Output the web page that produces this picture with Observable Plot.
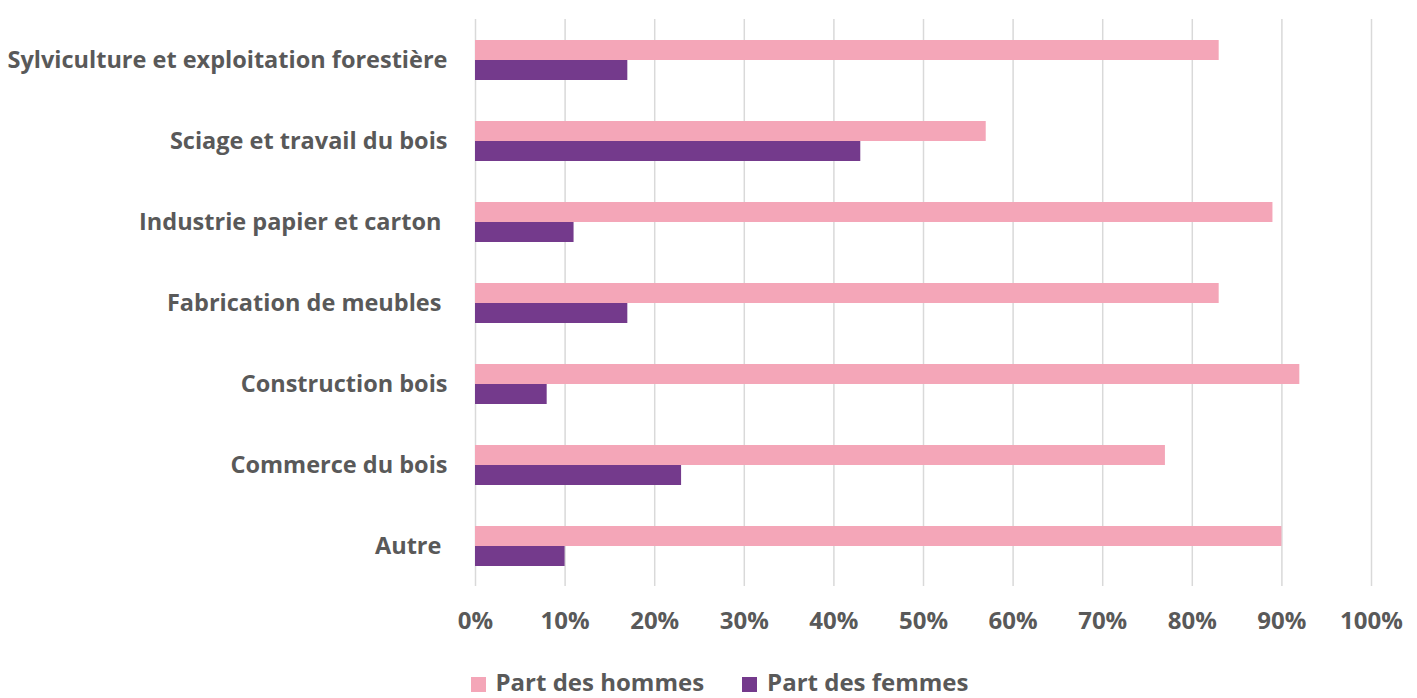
<!DOCTYPE html>
<html><head><meta charset="utf-8">
<script src="https://cdn.jsdelivr.net/npm/d3@7"></script>
<script src="https://cdn.jsdelivr.net/npm/@observablehq/plot@0.6"></script>
<style>
body{margin:0;background:#fff;font-family:"Open Sans",Roboto,sans-serif;}
#legend{display:flex;justify-content:center;gap:38px;font-weight:bold;font-size:24px;color:#595959;margin-top:8px;line-height:28px;padding-left:22px}
#legend span.sw{display:inline-block;width:15px;height:15px;margin-right:10px;vertical-align:-1px}
</style></head>
<body>
<div id="chart"></div>
<div id="legend"></div>
<script>
const categories = ["Sylviculture et exploitation forestière","Sciage et travail du bois","Industrie papier et carton\u00a0","Fabrication de meubles\u00a0","Construction bois","Commerce du bois","Autre\u00a0"];
const series = ["Part des hommes","Part des femmes"];
const hommes = [83,57,89,83,92,77,90];
const femmes = [17,43,11,17,8,23,10];
const xTicks = [0,10,20,30,40,50,60,70,80,90,100];
const colors = ["#F4A6B8","#743A8C"];

const data = [];
categories.forEach((c,i)=>{
  data.push({cat:c, series:series[0], value:hommes[i]});
  data.push({cat:c, series:series[1], value:femmes[i]});
});

const chart = Plot.plot({
  width:1417, height:660,
  marginLeft:475, marginRight:46, marginTop:18, marginBottom:73,
  style:{fontFamily:"'Open Sans', Roboto, sans-serif", fontWeight:"bold", color:"#595959", fontSize:"23.5px"},
  x:{domain:[0,100], label:null},
  fy:{domain:categories, padding:0, label:null, axis:"left", tickSize:0, tickPadding:28},
  y:{domain:series, paddingInner:0, paddingOuter:0.93, axis:null},
  color:{domain:series, range:colors},
  marks:[
    Plot.gridX(xTicks, {stroke:"#d9d9d9", strokeOpacity:1, strokeWidth:1.5}),
    Plot.axisX({ticks:xTicks, tickFormat:d=>d+"%", tickSize:0, tickPadding:25, label:null, fontSize:24, fontWeight:"bold"}),
    Plot.barX(data, {fy:"cat", y:"series", x:"value", fill:"series"})
  ]
});
document.getElementById("chart").appendChild(chart);
const lg = document.getElementById("legend");
series.forEach((s,i)=>{
  const d = document.createElement("div");
  d.innerHTML = `<span class="sw" style="background:${colors[i]}"></span>${s}`;
  lg.appendChild(d);
});
</script>
</body></html>
